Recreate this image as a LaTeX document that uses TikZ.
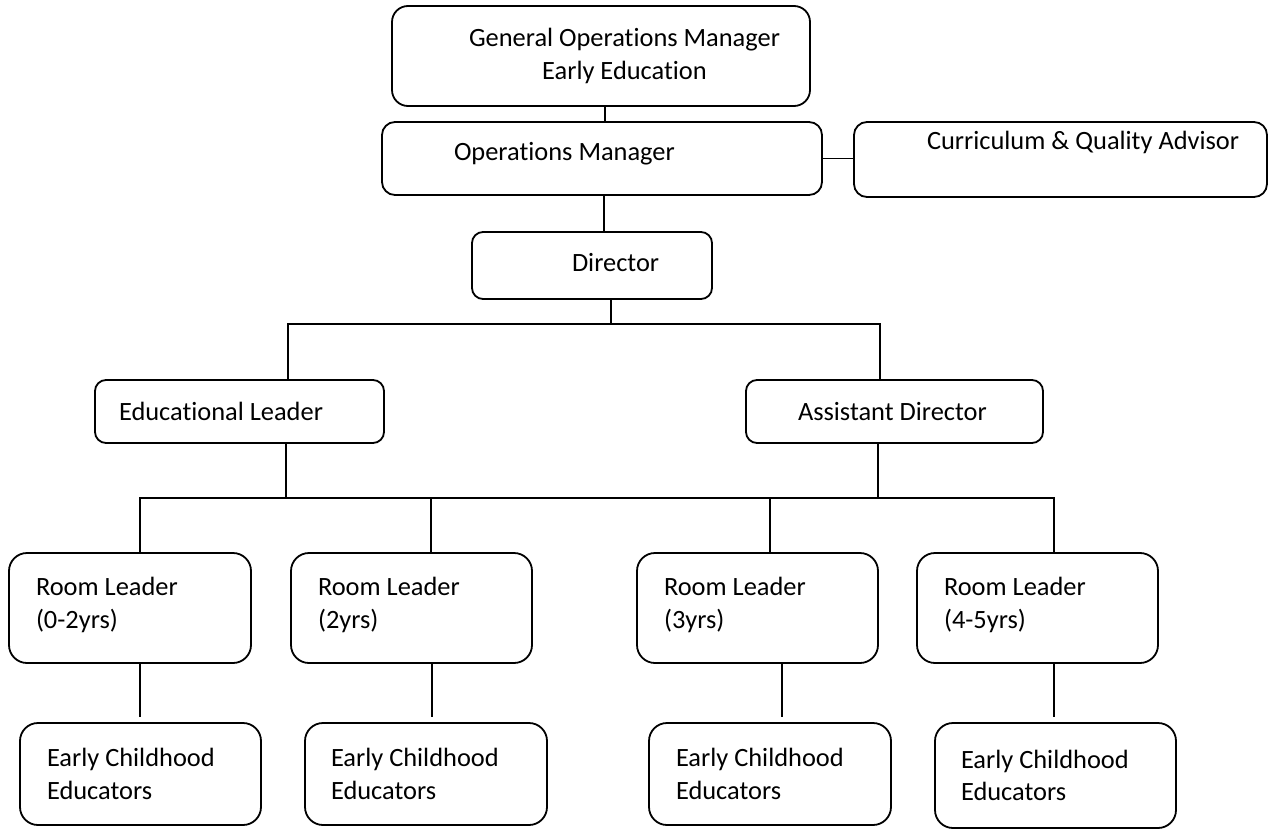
\documentclass[tikz,border=0pt]{standalone}
\usepackage{fontspec}
\setmainfont{Carlito}[Ligatures=NoCommon]
\newcommand{\orgfont}{\fontsize{26.4pt}{32.5pt}\selectfont}

\begin{document}
\begin{tikzpicture}[
    x=1pt, y=-1pt,
    line width=1.8pt,
    unit/.style={draw, rectangle, rounded corners=#1, inner sep=0pt},
    unit/.default=12pt,
    room/.style={unit=18pt, minimum width=241pt, minimum height=110pt},
    staff/.style={unit=18pt, minimum width=241pt, minimum height=102pt},
    say/.style n args={3}{label={[anchor=west, xshift=#1, yshift=#2]west:{#3}}},
    every label/.style={inner sep=0pt, font=\orgfont, align=left},
    drop/.style={shorten >=5pt}
]
    \useasboundingbox (0,0) rectangle (1271,829);

    % Management
    \node[unit=16pt, minimum width=418pt, minimum height=100pt,
          label={[xshift=23.5pt, align=center]center:{General Operations Manager\\Early Education}}] (gom) at (601,56) {};
    \node[unit=13pt, minimum width=440pt, minimum height=73pt,
          say={72pt}{4.5pt}{Operations Manager}] (om) at (602,158.5) {};
    \node[unit=13pt, minimum width=413pt, minimum height=75pt,
          say={73pt}{17.5pt}{Curriculum \& Quality Advisor}] (cqa) at (1060.5,159.5) {};
    \node[unit=11pt, minimum width=240pt, minimum height=67pt,
          say={100pt}{2.5pt}{Director}] (dir) at (592,265.5) {};

    % Leaders
    \node[unit=11pt, minimum width=289pt, minimum height=63pt,
          say={24pt}{0pt}{Educational Leader}] (el) at (239.5,411.5) {};
    \node[unit=11pt, minimum width=297pt, minimum height=63pt,
          say={52pt}{0pt}{Assistant Director}] (ad) at (894.5,411.5) {};

    % Rooms
    \node[room, minimum width=242pt, say={27pt}{3pt}{Room Leader\\(0-2yrs)}] (rl1) at (130,608) {};
    \node[room, say={27pt}{3pt}{Room Leader\\(2yrs)}] (rl2) at (411.5,608) {};
    \node[room, say={27pt}{3pt}{Room Leader\\(3yrs)}] (rl3) at (757.5,608) {};
    \node[room, say={27pt}{3pt}{Room Leader\\(4-5yrs)}] (rl4) at (1037.5,608) {};

    % Educators
    \node[staff, say={27pt}{0pt}{Early Childhood\\Educators}] (ec1) at (140.5,774) {};
    \node[staff, minimum width=242pt, say={26pt}{0pt}{Early Childhood\\Educators}] (ec2) at (426,774) {};
    \node[staff, minimum width=242pt, say={27pt}{0pt}{Early Childhood\\Educators}] (ec3) at (770,774) {};
    \node[staff, minimum height=105pt, say={26pt}{0pt}{Early Childhood\\Educators}] (ec4) at (1055.5,775.5) {};

    % Junctions
    \coordinate (bus1) at (611,324);
    \coordinate (bus2l) at (286,498);
    \coordinate (bus2r) at (878,498);

    % Lines
    \draw ([xshift=4pt]gom.south) -- ([xshift=4pt]gom.south |- om.north);
    \draw (om.east) -- (cqa.west |- om.east);
    \draw ([xshift=2pt]om.south) -- ([xshift=2pt]om.south |- dir.north);
    \draw ([xshift=19pt]dir.south) -- (bus1);
    \draw ([xshift=48.5pt]el.north) |- (bus1) -| ([xshift=-14.5pt]ad.north);
    \draw ([xshift=46.5pt]el.south) -- (bus2l);
    \draw ([xshift=-16.5pt]ad.south) -- (bus2r);
    \draw ([xshift=10pt]rl1.north) |- (bus2l) -- (bus2r) -| ([xshift=16.5pt]rl4.north);
    \draw ([xshift=19.5pt]rl2.north) -- ([xshift=19.5pt]rl2.north |- bus2l);
    \draw ([xshift=12.5pt]rl3.north) -- ([xshift=12.5pt]rl3.north |- bus2l);

    \draw[drop] ([xshift=10pt]rl1.south) -- ([xshift=10pt]rl1.south |- ec1.north);
    \draw[drop] ([xshift=20.5pt]rl2.south) -- ([xshift=20.5pt]rl2.south |- ec2.north);
    \draw[drop] ([xshift=24.5pt]rl3.south) -- ([xshift=24.5pt]rl3.south |- ec3.north);
    \draw[drop] ([xshift=16.5pt]rl4.south) -- ([xshift=16.5pt]rl4.south |- ec4.north);
\end{tikzpicture}
\end{document}
